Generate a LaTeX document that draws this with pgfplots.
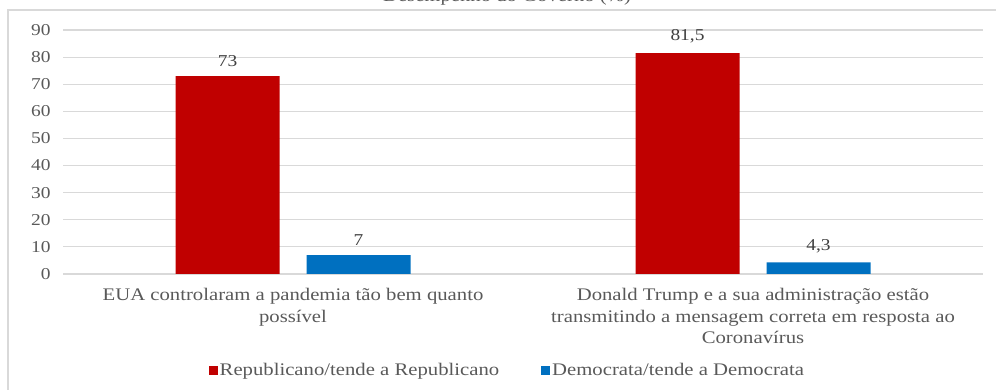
\documentclass[border=0pt]{standalone}
\usepackage{pgfplots}
\pgfplotsset{compat=1.18}
\usepackage{fontspec}
\setmainfont{Liberation Serif}[FakeStretch=1.17]
\definecolor{rep}{HTML}{C00000}
\definecolor{dem}{HTML}{0070C0}
\definecolor{txt}{HTML}{595959}
\definecolor{grd}{HTML}{D9D9D9}
\begin{document}
\begin{tikzpicture}[x=1pt,y=1pt]
\useasboundingbox (0,0) rectangle (996,390);
\draw[grd, line width=1.2pt] (8,-10) rectangle (1010,380);
\node[anchor=base, text=txt, font=\fontsize{17.7}{21}\selectfont] at (507,388) {Desempenho do Governo (\%)};
\begin{axis}[
  at={(63pt,116pt)}, anchor=south west,
  scale only axis, width=920pt, height=244pt,
  xmin=-0.5, xmax=1.5, ymin=0, ymax=90,
  ytick={0,10,...,90},
  xtick={0,1},
  xticklabels={{EUA controlaram a pandemia tão bem quanto\\possível},
               {Donald Trump e a sua administração estão\\transmitindo a mensagem correta em resposta ao\\Coronavírus}},
  xticklabel style={align=center, text=txt, font=\fontsize{17.7}{21.5}\selectfont, yshift=-11pt},
  yticklabel style={text=txt, font=\fontsize{16.6}{19}\selectfont, xshift=-9pt},
  /pgf/number format/assume math mode=true,
  /pgf/number format/use comma,
  /pgf/number format/1000 sep={},
  axis line style={draw=none},
  major tick length=0pt,
  ymajorgrids, grid style={grd, line width=1.2pt},
  ybar=27pt, bar width=104pt,
  nodes near coords,
  every node near coord/.append style={text=black!75, font=\fontsize{16.6}{19}\selectfont, yshift=6pt},
  legend columns=2,
  legend style={draw=none, at={(0.483,-0.395)}, anchor=center, text=txt,
    font=\fontsize{17.7}{21}\selectfont,
    /tikz/every even column/.append style={column sep=40pt}},
  legend image code/.code={\fill[#1] (0pt,-4.5pt) rectangle (9pt,4.5pt);},
]
\addplot[fill=rep, draw=none] coordinates {(0,73) (1,81.5)};
\addplot[fill=dem, draw=none] coordinates {(0,7) (1,4.3)};
\legend{Republicano/tende a Republicano, Democrata/tende a Democrata}
\end{axis}
\end{tikzpicture}
\end{document}
